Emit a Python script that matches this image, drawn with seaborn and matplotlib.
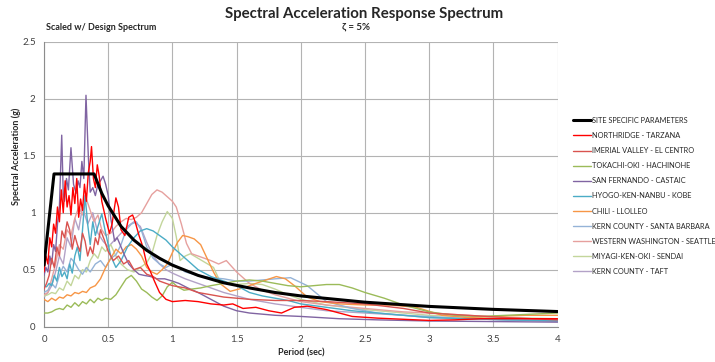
import matplotlib
matplotlib.use("Agg")
import matplotlib.pyplot as plt
import seaborn as sns

# ---------------- data ----------------
site_T = [0.0, 0.078, 0.39, 0.45, 0.5, 0.6, 0.7, 0.8, 0.9, 1.0, 1.2, 1.4, 1.6, 1.8, 2.0, 2.5, 3.0, 3.5, 4.0]
site_Sa = [0.54, 1.34, 1.34, 1.17, 1.06, 0.88, 0.76, 0.67, 0.60, 0.54, 0.45, 0.385, 0.34, 0.30, 0.27, 0.215, 0.178, 0.152, 0.133]

nr_T = [0, .015, .03, .045, .06, .075, .09, .105, .12, .135, .15, .165, .18, .195, .21, .225, .24, .255, .27, .285,
        .30, .315, .33, .345, .36, .37, .385, .40, .415, .43, .45, .48, .51, .53, .56, .58, .60, .63, .66, .69,
        .71, .74, .77, .80, .83, .86, .90, .95, 1.0, 1.1, 1.2, 1.3, 1.4, 1.47, 1.55, 1.65, 1.75, 1.85, 1.95, 2.05,
        2.2, 2.4, 2.6, 2.8, 3.0, 3.2, 3.4, 3.7, 4.0]
nr_Sa = [0.48, 0.62, 0.55, 0.78, 0.70, 0.90, 0.82, 1.05, 0.92, 1.20, 1.00, 1.28, 1.05, 1.15, 0.98, 1.22, 1.08, 1.30, 0.96, 1.12,
         1.02, 1.25, 1.10, 1.35, 1.45, 1.58, 1.30, 1.22, 1.42, 1.32, 1.10, 0.95, 0.82, 0.90, 1.13, 1.05, 0.85, 0.80, 0.96, 0.98,
         0.92, 0.80, 0.70, 0.55, 0.48, 0.40, 0.30, 0.24, 0.22, 0.23, 0.22, 0.20, 0.19, 0.20, 0.16, 0.17, 0.14, 0.12, 0.17, 0.18,
         0.15, 0.09, 0.075, 0.065, 0.055, 0.06, 0.07, 0.07, 0.07]

iv_T = [0, .02, .04, .06, .08, .10, .12, .14, .16, .18, .20, .22, .24, .26, .28, .30, .32, .34, .36, .38,
        .40, .42, .44, .47, .50, .54, .58, .62, .66, .70, .75, .80, .85, .90, .95, 1.0, 1.1, 1.2, 1.3, 1.4,
        1.5, 1.6, 1.8, 2.0, 2.2, 2.5, 2.8, 3.0, 3.3, 3.6, 4.0]
iv_Sa = [.33, .38, .45, .60, .52, .70, .62, .84, .78, .92, .85, .68, .80, .72, .66, .82, .75, .62, .70, .64,
         .78, .72, .85, .76, .66, .58, .62, .55, .58, .50, .52, .46, .44, .40, .38, .36, .34, .30, .28, .26,
         .25, .24, .23, .23, .22, .20, .16, .12, .10, .08, .06]

tk_T = [0, .03, .06, .09, .12, .15, .18, .21, .24, .27, .30, .33, .36, .39, .42, .45, .48, .52, .56, .60,
        .64, .68, .72, .76, .80, .84, .88, .92, .96, 1.0, 1.04, 1.09, 1.15, 1.22, 1.3, 1.4, 1.5, 1.6, 1.7, 1.8,
        1.9, 2.0, 2.1, 2.2, 2.3, 2.4, 2.5, 2.65, 2.8, 3.0, 3.2, 3.4, 3.6, 3.8, 4.0]
tk_Sa = [.12, .12, .13, .15, .16, .15, .19, .17, .21, .18, .22, .20, .24, .21, .25, .23, .25, .24, .28, .35,
         .42, .45, .40, .33, .30, .26, .23, .27, .35, .39, .35, .32, .33, .34, .36, .38, .40, .41, .40, .38,
         .36, .35, .36, .37, .37, .34, .30, .25, .19, .13, .10, .09, .10, .11, .12]

sf_T = [0, .015, .03, .045, .06, .075, .09, .105, .12, .138, .15, .16, .175, .19, .21, .23, .25, .265, .28, .295,
        .31, .327, .345, .36, .38, .40, .42, .44, .46, .48, .50, .52, .55, .57, .60, .63, .66, .70, .74, .78,
        .83, .88, .94, 1.0, 1.05, 1.12, 1.2, 1.3, 1.4, 1.5, 1.6, 1.8, 2.0, 2.3, 2.6, 3.0, 3.5, 4.0]
sf_Sa = [.45, .52, .48, .62, .55, .72, .66, .90, 1.05, 1.68, 1.16, 1.10, 1.30, 1.20, 1.57, 1.25, 1.17, 1.28, 1.22, 1.45,
         1.30, 2.03, 1.50, 1.18, 1.22, 1.15, 1.25, 1.28, 1.32, 1.25, 1.15, .95, .75, .78, .70, .62, .55, .50, .46, .45,
         .44, .42, .42, .40, .38, .34, .30, .24, .18, .14, .12, .10, .09, .07, .06, .05, .045, .04]

kb_T = [0, .02, .04, .06, .08, .10, .12, .14, .16, .18, .20, .22, .24, .26, .28, .30, .32, .34, .36, .38,
        .40, .42, .45, .48, .52, .56, .60, .65, .70, .75, .80, .85, .90, .95, 1.0, 1.1, 1.2, 1.3, 1.4, 1.5,
        1.6, 1.7, 1.8, 1.9, 2.0, 2.2, 2.4, 2.6, 2.8, 3.0, 3.3, 3.6, 4.0]
kb_Sa = [.36, .35, .38, .36, .45, .40, .52, .44, .48, .42, .55, .47, .62, .70, .58, .85, 1.15, .90, .72, .92,
         .80, .88, .99, .82, .62, .52, .58, .70, .78, .84, .86, .84, .80, .76, .70, .60, .50, .44, .40, .36,
         .30, .27, .25, .23, .20, .17, .14, .12, .10, .08, .07, .06, .05]

ch_T = [0, .03, .06, .09, .12, .15, .18, .21, .24, .27, .30, .33, .36, .40, .44, .48, .52, .56, .60, .64,
        .68, .72, .76, .80, .84, .88, .92, .96, 1.0, 1.04, 1.08, 1.12, 1.17, 1.22, 1.27, 1.32, 1.37, 1.45, 1.55, 1.65,
        1.73, 1.81, 1.88, 1.95, 2.05, 2.15, 2.3, 2.5, 2.7, 2.9, 3.1, 3.3, 3.5, 3.75, 4.0]
ch_Sa = [.24, .22, .25, .23, .26, .25, .28, .27, .30, .29, .31, .30, .34, .36, .42, .52, .60, .68, .64, .70,
         .72, .68, .62, .52, .48, .46, .50, .55, .65, .74, .80, .79, .77, .72, .60, .48, .38, .31, .34, .38,
         .41, .44, .42, .36, .26, .22, .20, .19, .19, .17, .10, .08, .09, .10, .10]

ks_T = [0, .03, .06, .09, .12, .15, .18, .21, .24, .27, .30, .33, .36, .40, .44, .48, .52, .56, .60, .64,
        .68, .72, .76, .80, .85, .90, .95, 1.0, 1.05, 1.1, 1.2, 1.3, 1.4, 1.5, 1.6, 1.7, 1.8, 1.92, 2.05, 2.2,
        2.4, 2.6, 2.8, 3.0, 3.3, 3.6, 4.0]
ks_Sa = [.30, .32, .38, .34, .45, .53, .48, .60, .56, .50, .46, .52, .48, .55, .58, .52, .60, .63, .72, .85,
         .90, .92, .84, .70, .60, .55, .52, .55, .52, .48, .45, .43, .42, .40, .40, .41, .42, .43, .36, .22,
         .16, .12, .10, .09, .07, .06, .06]

ww_T = [0, .03, .06, .09, .12, .15, .18, .21, .24, .27, .30, .33, .36, .39, .42, .45, .48, .52, .56, .60,
        .64, .68, .72, .76, .80, .84, .88, .92, .96, 1.0, 1.03, 1.07, 1.11, 1.15, 1.2, 1.25, 1.3, 1.36, 1.42, 1.5,
        1.6, 1.7, 1.8, 1.9, 2.0, 2.2, 2.5, 2.8, 3.0, 3.3, 3.6, 4.0]
ww_Sa = [.28, .30, .42, .55, .72, .68, .85, .80, .95, 1.05, .98, 1.12, 1.02, .92, .98, .85, .80, .82, .88, .92,
         .95, .94, .96, 1.00, 1.08, 1.16, 1.20, 1.18, 1.14, 1.10, 1.05, .90, .73, .64, .62, .60, .58, .55, .58, .48,
         .38, .32, .28, .25, .22, .19, .16, .13, .12, .10, .08, .06]

mk_T = [0, .03, .06, .09, .12, .15, .18, .21, .24, .27, .30, .33, .36, .39, .42, .45, .48, .52, .56, .60,
        .65, .70, .75, .80, .84, .88, .92, .96, 1.0, 1.03, 1.06, 1.10, 1.14, 1.2, 1.26, 1.32, 1.37, 1.42, 1.5, 1.6,
        1.7, 1.8, 1.9, 2.0, 2.2, 2.5, 2.8, 3.0, 3.3, 3.6, 4.0]
mk_Sa = [.27, .28, .30, .29, .34, .32, .40, .36, .45, .42, .50, .48, .58, .64, .60, .70, .66, .72, .62, .55,
         .50, .48, .52, .56, .64, .80, .92, 1.01, .95, .79, .58, .62, .64, .60, .56, .52, .40, .38, .37, .38,
         .37, .33, .28, .24, .19, .15, .12, .10, .09, .08, .07]

tf_T = [0, .03, .06, .09, .12, .15, .18, .21, .24, .27, .30, .34, .38, .42, .46, .50, .55, .60, .65, .70,
        .75, .80, .85, .90, .95, 1.0, 1.1, 1.2, 1.3, 1.4, 1.5, 1.6, 1.8, 2.0, 2.2, 2.5, 2.8, 3.0, 3.3, 3.6, 4.0]
tf_Sa = [.26, .30, .36, .48, .62, .55, .78, .70, .95, .85, 1.05, .90, 1.00, .82, .75, .70, .76, .82, .88, .92,
         .88, .74, .62, .55, .50, .47, .42, .38, .34, .30, .27, .24, .20, .17, .14, .12, .10, .08, .07, .06, .05]

series_names = ["SITE SPECIFIC PARAMETERS", "NORTHRIDGE - TARZANA", "IMERIAL VALLEY - EL CENTRO",
                "TOKACHI-OKI - HACHINOHE", "SAN FERNANDO - CASTAIC", "HYOGO-KEN-NANBU - KOBE",
                "CHILI - LLOLLEO", "KERN COUNTY - SANTA BARBARA", "WESTERN WASHINGTON - SEATTLE",
                "MIYAGI-KEN-OKI - SENDAI", "KERN COUNTY - TAFT"]
series_T = [site_T, nr_T, iv_T, tk_T, sf_T, kb_T, ch_T, ks_T, ww_T, mk_T, tf_T]
series_Sa = [site_Sa, nr_Sa, iv_Sa, tk_Sa, sf_Sa, kb_Sa, ch_Sa, ks_Sa, ww_Sa, mk_Sa, tf_Sa]
series_colors = ["#000000", "#FF0000", "#D9534F", "#9BBB59", "#8064A2", "#4BACC6",
                 "#F79646", "#95B3D7", "#E6A09E", "#C3D69B", "#B3A2C7"]

x_ticks = [0, 0.5, 1, 1.5, 2, 2.5, 3, 3.5, 4]
y_ticks = [0, 0.5, 1, 1.5, 2, 2.5]
x_tick_labels = ["0", "0.5", "1", "1.5", "2", "2.5", "3", "3.5", "4"]
y_tick_labels = ["0", "0.5", "1", "1.5", "2", "2.5"]

# ---------------- plot ----------------
sns.set_style("white")
plt.rcParams["font.family"] = ["Lato", "DejaVu Sans"]

fig = plt.figure(figsize=(7.15, 3.62), dpi=100)
ax = fig.add_axes([44 / 715, 1 - 326.7 / 362, (557.6 - 44) / 715, (326.7 - 41.7) / 362])

n = len(series_names)
for i in reversed(range(n)):
    sns.lineplot(x=series_T[i], y=series_Sa[i], ax=ax, color=series_colors[i],
                 linewidth=2.2 if i == 0 else 1.0, estimator=None, sort=False,
                 label=series_names[i], zorder=10 if i == 0 else 3 + (n - i) * 0.01)

ax.set_xlim(0, 4)
ax.set_ylim(0, 2.5)
ax.set_xticks(x_ticks)
ax.set_xticklabels(x_tick_labels)
ax.set_yticks(y_ticks)
ax.set_yticklabels(y_tick_labels)
ax.grid(True, color="#B3B3B3", linewidth=0.8)
ax.set_axisbelow(True)
for side in ["top", "right"]:
    ax.spines[side].set_visible(False)
for side in ["left", "bottom"]:
    ax.spines[side].set_color("#8C8C8C")
    ax.spines[side].set_linewidth(0.8)
ax.tick_params(axis="both", which="major", length=3, width=0.8, color="#8C8C8C",
               labelsize=7, labelcolor="#404040", direction="out", pad=3)
ax.set_xlabel("")
ax.set_ylabel("")

handles, labels = ax.get_legend_handles_labels()
hmap = dict(zip(labels, handles))
if ax.legend_:
    ax.legend_.remove()
fig.legend([hmap[s] for s in series_names], series_names, loc="upper left",
           bbox_to_anchor=(570 / 715, 1 - 114 / 362), frameon=False, fontsize=5.3,
           handlelength=2.45, handletextpad=0.15, labelspacing=1.1, borderaxespad=0)

fig.text(364 / 715, 1 - 14 / 362, "Spectral Acceleration Response Spectrum", ha="center", va="center",
         fontsize=10.8, fontweight="bold", color="#262626")
fig.text(356 / 715, 1 - 27 / 362, "ζ = 5%", ha="center", va="center", fontsize=7,
         fontweight="bold", color="#262626")
fig.text(46 / 715, 1 - 27 / 362, "Scaled w/ Design Spectrum", ha="left", va="center", fontsize=6.5,
         fontweight="bold", color="#262626")
fig.text(16 / 715, 1 - 156 / 362, "Spectral Acceleration (g)", ha="center", va="center", rotation=90,
         fontsize=6.5, fontweight="bold", color="#262626")
fig.text(301 / 715, 1 - 353 / 362, "Period (sec)", ha="center", va="center", fontsize=6.5,
         fontweight="bold", color="#262626")

fig.savefig("out.png", dpi=100)
